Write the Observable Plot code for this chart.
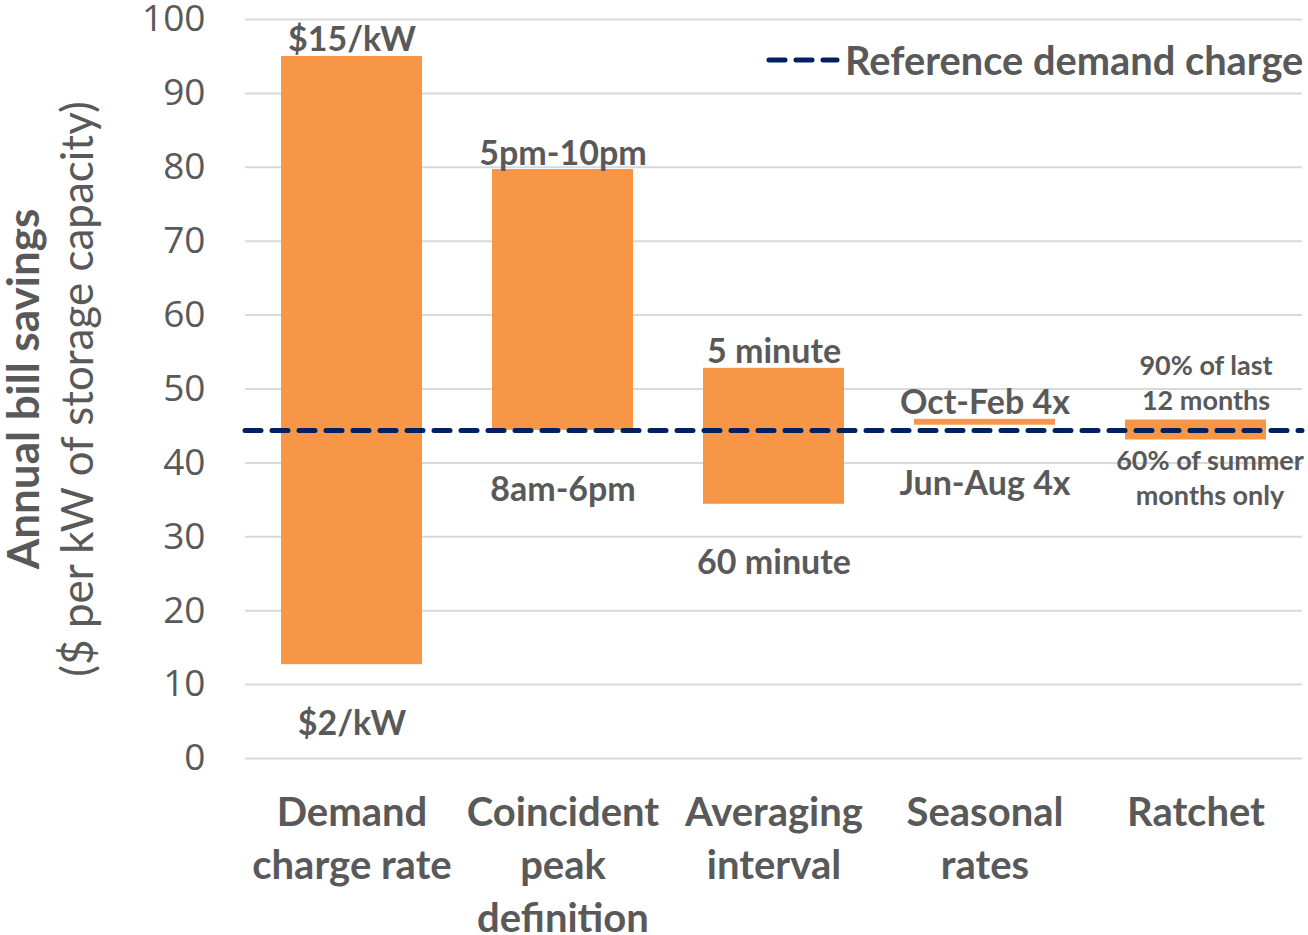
<!DOCTYPE html>
<html>
<head>
<meta charset="utf-8">
<script src="https://cdn.jsdelivr.net/npm/d3@7"></script>
<script src="https://cdn.jsdelivr.net/npm/@observablehq/plot@0.6"></script>
<style>
  html, body { margin: 0; padding: 0; background: #fff; }
  #wrap { position: relative; width: 1308px; height: 935px; overflow: hidden; }
  #legend { position: absolute; left: 766px; top: 36px; display: flex; align-items: center; white-space: nowrap;
            font-family: Lato, "Open Sans", sans-serif; font-weight: 700; font-size: 39.8px; color: #595959; }
  #legend svg { margin-right: 5px; }
</style>
</head>
<body>
<div id="wrap">
  <div id="chart"></div>
  <div id="legend">
    <svg width="74" height="10"><line x1="3" y1="5" x2="71" y2="5" stroke="#002060" stroke-width="5" stroke-linecap="round" stroke-dasharray="16,11"></line></svg>
    <span>Reference demand charge</span>
  </div>
</div>
<script>
// Range of annual bill savings for each rate design parameter
const categories = ["Demand\ncharge rate", "Coincident\npeak\ndefinition", "Averaging\ninterval", "Seasonal\nrates", "Ratchet"];
const lowValues  = [12.7, 44.4, 34.4, 45.1, 43.1];
const highValues = [95.0, 79.7, 52.8, 45.9, 45.8];
const highLabels = ["$15/kW", "5pm-10pm", "5 minute", "Oct-Feb 4x", "90% of last\n12 months"];
const lowLabels  = ["$2/kW", "8am-6pm", "60 minute", "Jun-Aug 4x", "60% of summer\nmonths only"];
const referenceCharge = 44.4;
const yTicks = [0, 10, 20, 30, 40, 50, 60, 70, 80, 90, 100];

const rows = categories.map((c, i) => ({
  category: c, lo: lowValues[i], hi: highValues[i], hiLabel: highLabels[i], loLabel: lowLabels[i]
}));
const mainRows = rows.filter(d => d.category !== "Ratchet");
const ratchetRows = rows.filter(d => d.category === "Ratchet");

const gray = "#595959";
const boldFont = "Lato, 'Open Sans', sans-serif";

const chart = Plot.plot({
  width: 1308,
  height: 935,
  marginLeft: 245,
  marginRight: 6,
  marginTop: 19,
  marginBottom: 177,
  style: { background: "#fff", color: gray, fontFamily: boldFont, overflow: "visible" },
  x: { domain: categories, paddingInner: 0.333, paddingOuter: 0.1667, label: null },
  y: { domain: [0, 100], label: null },
  marks: [
    Plot.gridY(yTicks, { stroke: "#d9d9d9", strokeOpacity: 1, strokeWidth: 2 }),
    Plot.axisY(yTicks, {
      tickSize: 0, tickPadding: 40, fontSize: 37, fontFamily: "'Open Sans', sans-serif",
      fill: gray, label: null
    }),
    Plot.axisX({
      tickSize: 0, tickPadding: 30, fontSize: 40, fontWeight: 700, lineHeight: 1.32,
      fill: gray, label: null, lineAnchor: "top"
    }),
    Plot.barY(rows, { x: "category", y1: "lo", y2: "hi", fill: "#f79646" }),
    Plot.ruleY([referenceCharge], {
      stroke: "#002060", strokeWidth: 5, strokeDasharray: "16,11", strokeLinecap: "round"
    }),
    // value-range labels above and below each bar
    Plot.text(mainRows, {
      x: "category", y: "hi", text: "hiLabel", lineAnchor: "bottom", dy: -5,
      fontSize: 34, fontWeight: 700, fill: gray
    }),
    Plot.text(mainRows, {
      x: "category", y: "lo", text: "loLabel", lineAnchor: "top", dy: 46,
      fontSize: 34, fontWeight: 700, fill: gray
    }),
    Plot.text(ratchetRows, {
      x: "category", y: "hi", text: "hiLabel", lineAnchor: "bottom", dy: -10, dx: 10,
      fontSize: 27, fontWeight: 700, fill: gray, lineHeight: 1.3
    }),
    Plot.text(ratchetRows, {
      x: "category", y: "lo", text: "loLabel", lineAnchor: "top", dy: 5, dx: 14,
      fontSize: 27, fontWeight: 700, fill: gray, lineHeight: 1.3
    }),
    // two-line y-axis title
    Plot.text(["Annual bill savings"], {
      frameAnchor: "left", textAnchor: "middle", dx: -221, rotate: -90,
      fontSize: 44, fontWeight: 700, fill: gray
    }),
    Plot.text(["($ per kW of storage capacity)"], {
      frameAnchor: "left", textAnchor: "middle", dx: -167, rotate: -90,
      fontSize: 44, fill: gray
    })
  ]
});

document.getElementById("chart").appendChild(chart);
</script>
</body>
</html>
